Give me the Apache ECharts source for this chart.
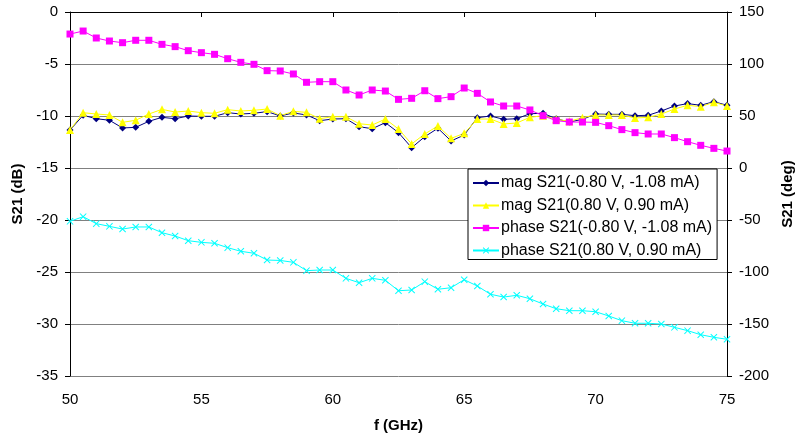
<!DOCTYPE html>
<html>
<head>
    <meta charset="utf-8">
    <title>S21</title>
    <style>
        body { margin: 0; background: #fff; }
        #ec { width: 796px; height: 439px; }
    </style>
</head>
<body>
    <div id="ec"></div>
    <script src="https://cdn.jsdelivr.net/npm/echarts@6/dist/echarts.min.js"></script>
    <script>
        var freq = [50, 50.5, 51, 51.5, 52, 52.5, 53, 53.5, 54, 54.5, 55, 55.5, 56, 56.5, 57, 57.5,
            58, 58.5, 59, 59.5, 60, 60.5, 61, 61.5, 62, 62.5, 63, 63.5, 64, 64.5, 65, 65.5,
            66, 66.5, 67, 67.5, 68, 68.5, 69, 69.5, 70, 70.5, 71, 71.5, 72, 72.5, 73, 73.5,
            74, 74.5, 75];

        // mag S21(-0.80 V, -1.08 mA), dB
        var magNeg = [-11.35, -9.93, -10.26, -10.41, -11.15, -11.09, -10.51, -10.13, -10.26, -10.0,
            -10.03, -10.03, -9.68, -9.81, -9.74, -9.58, -9.99, -9.71, -9.9, -10.45,
            -10.29, -10.26, -11.03, -11.22, -10.64, -11.6, -13.05, -11.99, -11.18, -12.4,
            -11.83, -10.16, -10.0, -10.32, -10.26, -9.78, -9.74, -10.26, -10.58, -10.32,
            -9.81, -9.84, -9.84, -9.97, -9.93, -9.52, -9.04, -8.81, -8.97, -8.62, -8.97];

        // mag S21(0.80 V, 0.90 mA), dB
        var magPos = [-11.35, -9.68, -9.81, -9.9, -10.61, -10.41, -9.81, -9.36, -9.62, -9.52,
            -9.68, -9.74, -9.39, -9.52, -9.45, -9.33, -9.97, -9.55, -9.65, -10.26,
            -10.07, -10.07, -10.74, -10.87, -10.29, -11.25, -12.69, -11.73, -10.96, -12.15,
            -11.67, -10.29, -10.29, -10.77, -10.67, -10.13, -9.97, -10.32, -10.51, -10.16,
            -9.9, -9.9, -9.9, -10.19, -10.13, -9.81, -9.33, -8.97, -9.1, -8.68, -9.04];

        // phase S21(-0.80 V, -1.08 mA), deg
        var phaseNeg = [128.8, 131.7, 125, 122.1, 120.5, 122.8, 122.8, 118.9, 116.7, 112.8,
            110.9, 109.3, 105.1, 101.6, 99.7, 93.6, 93.3, 90.4, 82.4, 83,
            83, 75, 70.2, 75, 74, 66, 67, 74.3, 66.7, 68.6,
            76.9, 71.8, 63.5, 59.6, 59.6, 55.8, 50.3, 45.5, 44.2, 44.2,
            43.9, 40.7, 36.9, 34, 32.7, 32.7, 29.2, 25.3, 21.8, 18.9, 16.3];

        // phase S21(0.80 V, 0.90 mA), deg
        var phasePos = [-51.3, -46.8, -53.5, -56.1, -58.7, -56.7, -56.7, -62.2, -65.4, -69.9,
            -71.5, -72.4, -76.6, -80.1, -82, -88.5, -88.9, -90.7, -98.7, -98.1,
            -98.1, -106.1, -110.3, -106.1, -108, -118, -117.3, -109.3, -116.6, -115.1,
            -107.4, -113.5, -121.4, -124.1, -122.4, -125.7, -130.8, -135.3, -137.2, -137.2,
            -138.2, -142.3, -146.8, -149.3, -149.3, -150, -153.2, -156.4, -160.3, -162.8, -164.7];

        var names = [
            'mag S21(-0.80 V, -1.08 mA)',
            'mag S21(0.80 V, 0.90 mA)',
            'phase S21(-0.80 V, -1.08 mA)',
            'phase S21(0.80 V, 0.90 mA)'
        ];

        function pairs(ys) {
            return freq.map(function (f, i) { return [f, ys[i]]; });
        }

        var xMark = 'path://M0,1L1,0L5,4L9,0L10,1L6,5L10,9L9,10L5,6L1,10L0,9L4,5Z';
        var font = 'Liberation Sans, Arial, sans-serif';
        var tickLabel = { color: '#000', fontFamily: font, fontSize: 15 };
        var nameStyle = { color: '#000', fontFamily: font, fontSize: 15, fontWeight: 'bold' };

        var chart = echarts.init(document.getElementById('ec'));
        chart.setOption({
            animation: false,
            backgroundColor: '#fff',
            grid: { left: 70, right: 69, top: 12, bottom: 63, containLabel: false, outerBoundsMode: 'none' },
            legend: {
                orient: 'vertical',
                left: 468,
                top: 169,
                padding: [6, 5, 1, 4],
                itemGap: 6.5,
                itemWidth: 26,
                itemHeight: 8,
                backgroundColor: '#fff',
                borderColor: '#000',
                borderWidth: 1,
                borderRadius: 0,
                textStyle: { color: '#000', fontFamily: font, fontSize: 16, lineHeight: 16, padding: [0, 0, 0, -3] },
                data: names
            },
            xAxis: {
                type: 'value',
                min: 50, max: 75, interval: 5,
                name: 'f (GHz)',
                nameLocation: 'middle',
                nameGap: 42,
                nameTextStyle: nameStyle,
                axisLine: { lineStyle: { color: '#000', width: 1 } },
                axisTick: { length: 5, lineStyle: { color: '#000' } },
                axisLabel: Object.assign({ margin: 16 }, tickLabel),
                splitLine: { show: false }
            },
            yAxis: [{
                type: 'value',
                min: -35, max: 0, interval: 5,
                name: 'S21 (dB)',
                nameLocation: 'middle',
                nameGap: 43,
                nameTextStyle: nameStyle,
                axisLine: { show: true, lineStyle: { color: '#000', width: 1 } },
                axisTick: { show: true, length: 5, lineStyle: { color: '#000' } },
                axisLabel: Object.assign({ margin: 12 }, tickLabel),
                splitLine: { show: true, lineStyle: { color: '#808080', width: 1 } }
            }, {
                type: 'value',
                min: -200, max: 150, interval: 50,
                name: 'S21 (deg)',
                nameLocation: 'middle',
                nameGap: 53,
                nameRotate: 90,
                nameTextStyle: nameStyle,
                axisLine: { show: true, lineStyle: { color: '#000', width: 1 } },
                axisTick: { show: true, length: 5, lineStyle: { color: '#000' } },
                axisLabel: Object.assign({ margin: 12 }, tickLabel),
                splitLine: { show: false }
            }],
            series: [{
                name: names[0],
                type: 'line',
                yAxisIndex: 0,
                data: pairs(magNeg),
                symbol: 'diamond',
                symbolSize: 7,
                color: '#000080',
                lineStyle: { width: 1, color: '#000080' },
                itemStyle: { color: '#000080' }
            }, {
                name: names[1],
                type: 'line',
                yAxisIndex: 0,
                data: pairs(magPos),
                symbol: 'triangle',
                symbolSize: 8,
                color: '#ffff00',
                lineStyle: { width: 1, color: '#ffff00' },
                itemStyle: { color: '#ffff00' }
            }, {
                name: names[2],
                type: 'line',
                yAxisIndex: 1,
                data: pairs(phaseNeg),
                symbol: 'rect',
                symbolSize: 7,
                color: '#ff00ff',
                lineStyle: { width: 1, color: '#ff00ff' },
                itemStyle: { color: '#ff00ff' }
            }, {
                name: names[3],
                type: 'line',
                yAxisIndex: 1,
                data: pairs(phasePos),
                symbol: xMark,
                symbolSize: 7,
                color: '#00ffff',
                lineStyle: { width: 1, color: '#00ffff' },
                itemStyle: { color: '#00ffff' }
            }]
        });
    </script>
</body>
</html>
